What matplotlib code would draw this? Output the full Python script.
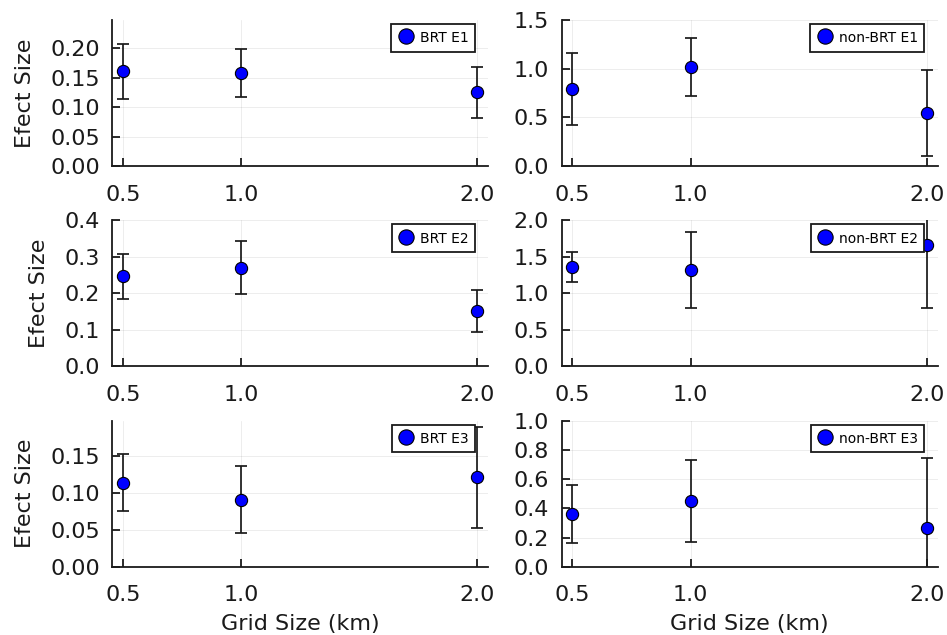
import numpy as np
import matplotlib
matplotlib.use("Agg")
from matplotlib import pyplot as plt
from matplotlib.ticker import FormatStrFormatter

# grid sizes (km)
grid_km = [0.5, 1.0, 2.0]

# effect sizes and error bar half-widths
brt_e1 = [0.161, 0.158, 0.125]
brt_e1_err = [0.047, 0.041, 0.043]
brt_e2 = [0.247, 0.270, 0.152]
brt_e2_err = [0.062, 0.072, 0.058]
brt_e3 = [0.114, 0.091, 0.121]
brt_e3_err = [0.039, 0.045, 0.069]

nonbrt_e1 = [0.787, 1.020, 0.546]
nonbrt_e1_err = [0.370, 0.300, 0.440]
nonbrt_e2 = [1.360, 1.314, 1.667]
nonbrt_e2_err = [0.200, 0.520, 0.865]
nonbrt_e3 = [0.359, 0.450, 0.263]
nonbrt_e3_err = [0.200, 0.278, 0.480]

labels = ["BRT E1", "non-BRT E1", "BRT E2", "non-BRT E2", "BRT E3", "non-BRT E3"]

series = [(brt_e1, brt_e1_err), (nonbrt_e1, nonbrt_e1_err),
          (brt_e2, brt_e2_err), (nonbrt_e2, nonbrt_e2_err),
          (brt_e3, brt_e3_err), (nonbrt_e3, nonbrt_e3_err)]

# y axis setup per panel: (top, ticks, format)
yaxes = [(0.248, np.arange(0, 0.201, 0.05), "%.2f"),
         (1.5, np.arange(0, 1.51, 0.5), "%.1f"),
         (0.4, np.arange(0, 0.41, 0.1), "%.1f"),
         (2.0, np.arange(0, 2.01, 0.5), "%.1f"),
         (0.198, np.arange(0, 0.151, 0.05), "%.2f"),
         (1.0, np.arange(0, 1.01, 0.2), "%.1f")]

W, H = 947, 635
fig = plt.figure(figsize=(W / 100, H / 100), dpi=100)

lefts = [112.3, 561.7]
tops = [20, 220.3, 420.7]
aw, ah = 375.8, 146

for k in range(6):
    row, col = divmod(k, 2)
    ax = fig.add_axes([lefts[col] / W, 1 - (tops[row] + ah) / H, aw / W, ah / H])
    vals, errs = series[k]
    ytop, yt, fmt = yaxes[k]

    ax.errorbar(grid_km, vals, yerr=errs, fmt="none", ecolor="#1a1a1a",
                elinewidth=1.25, capsize=4.3, capthick=1.25, zorder=2)
    ax.plot(grid_km, vals, "o", color="blue", mec="black", mew=0.8, ms=8.8,
            label=labels[k], zorder=3)

    ax.set_xlim(0.455, 2.045)
    ax.set_ylim(0, ytop)
    ax.set_xticks(grid_km)
    ax.set_xticklabels(["0.5", "1.0", "2.0"])
    ax.set_yticks(yt)
    ax.yaxis.set_major_formatter(FormatStrFormatter(fmt))

    ax.grid(True, color="black", alpha=0.1, lw=0.5)
    ax.set_axisbelow(True)
    for s in ["top", "right"]:
        ax.spines[s].set_visible(False)
    for s in ["left", "bottom"]:
        ax.spines[s].set_linewidth(1.3)
        ax.spines[s].set_color("#1a1a1a")
    ax.tick_params(direction="in", length=5.5, width=1.3, labelsize=16,
                   color="#1a1a1a", labelcolor="#1a1a1a")
    ax.tick_params(axis="x", pad=13.5)
    ax.tick_params(axis="y", pad=9)

    if col == 0:
        ax.set_ylabel("Efect Size", fontsize=16, color="#1a1a1a", labelpad=11)
    if row == 2:
        ax.set_xlabel("Grid Size (km)", fontsize=16, color="#1a1a1a", labelpad=6)

    leg = ax.legend(loc="upper right", bbox_to_anchor=(0.965, 0.9725),
                    borderaxespad=0, fontsize=10, fancybox=False,
                    edgecolor="#1a1a1a", framealpha=1, markerscale=1.25,
                    handlelength=1.2, handleheight=1.3, handletextpad=0.4,
                    borderpad=0.45)
    leg.get_frame().set_linewidth(1.3)

plt.savefig("out.png", dpi=100)
